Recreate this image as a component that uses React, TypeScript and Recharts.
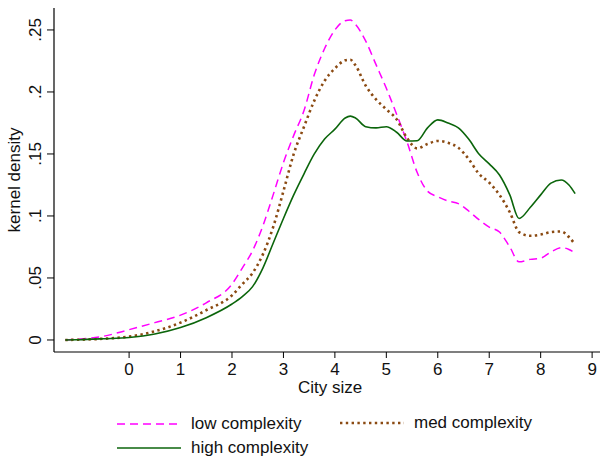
import { Label, Line, LineChart, XAxis, YAxis } from 'recharts'

const citySize = [
  -1.24, -1.0, -0.5, 0, 0.5, 1.0, 1.5, 2.0, 2.2, 2.4, 2.6, 2.8, 3.0, 3.2, 3.4, 3.6, 3.8, 4.0, 4.2, 4.3,
  4.4, 4.6, 4.8, 5.0, 5.2, 5.4, 5.6, 5.8, 6.0, 6.2, 6.4, 6.6, 6.8, 7.0, 7.2, 7.4, 7.58, 7.8, 8.0, 8.2,
  8.4, 8.55, 8.67,
]

const lowComplexity = [
  0, 0.0006, 0.003, 0.0083, 0.014, 0.02, 0.03, 0.045, 0.058, 0.072, 0.092, 0.117, 0.143, 0.165, 0.185,
  0.214, 0.235, 0.25, 0.2575, 0.258, 0.2545, 0.241, 0.222, 0.203, 0.182, 0.16, 0.135, 0.12, 0.1155,
  0.112, 0.11, 0.104, 0.097, 0.091, 0.087, 0.075, 0.063, 0.065, 0.066, 0.071, 0.0745, 0.073, 0.07,
]

const medComplexity = [
  0, 0.0002, 0.001, 0.0027, 0.007, 0.014, 0.024, 0.036, 0.045, 0.054, 0.069, 0.091, 0.12, 0.15, 0.172,
  0.193, 0.209, 0.219, 0.2255, 0.226, 0.2215, 0.205, 0.194, 0.186, 0.178, 0.163, 0.1545, 0.158, 0.1605,
  0.159, 0.155, 0.146, 0.134, 0.127, 0.117, 0.103, 0.087, 0.084, 0.085, 0.087, 0.0875, 0.083, 0.077,
]

const highComplexity = [
  0, 0.0002, 0.001, 0.002, 0.0048, 0.01, 0.018, 0.029, 0.035, 0.043, 0.058, 0.078, 0.098, 0.117, 0.134,
  0.15, 0.162, 0.17, 0.179, 0.1805, 0.179, 0.172, 0.171, 0.172, 0.1675, 0.1605, 0.1607, 0.171, 0.1775,
  0.175, 0.171, 0.162, 0.15, 0.142, 0.133, 0.117, 0.098, 0.107, 0.117, 0.1265, 0.129, 0.125, 0.118,
]

const xTicks = [0, 1, 2, 3, 4, 5, 6, 7, 8, 9]
const yTicks = [0, 0.05, 0.1, 0.15, 0.2, 0.25]

const FONT = '"Liberation Sans", Arial, Helvetica, sans-serif'

const series = [
  { key: 'low', name: 'low complexity', color: '#ff00ff', width: 1.5, dash: '8 5' },
  { key: 'med', name: 'med complexity', color: '#8b4a12', width: 2.6, dash: '2.4 3.4' },
  { key: 'high', name: 'high complexity', color: '#0b650b', width: 1.6, dash: undefined },
]

const rows = citySize.map((x, i) => ({
  x,
  low: lowComplexity[i],
  med: medComplexity[i],
  high: highComplexity[i],
}))

const fmtY = (v: number) => (v === 0 ? '0' : String(v).replace(/^0\./, '.'))

const YTick = ({ x, y, payload }: any) => (
  <text
    x={x}
    y={y}
    transform={`rotate(-90 ${x} ${y})`}
    textAnchor="middle"
    fontSize={17}
    fontFamily={FONT}
    fill="#111"
  >
    {fmtY(payload.value)}
  </text>
)

const LegendItem = ({ s, left, top }: { s: (typeof series)[number]; left: number; top: number }) => (
  <div style={{ position: 'absolute', left, top, display: 'flex', alignItems: 'center' }}>
    <svg width={66} height={6}>
      <line x1={1} y1={3} x2={65} y2={3} stroke={s.color} strokeWidth={s.width} strokeDasharray={s.dash} />
    </svg>
    <span style={{ marginLeft: 9, fontSize: 17, fontFamily: FONT, color: '#111', lineHeight: '20px' }}>{s.name}</span>
  </div>
)

export default function App() {
  return (
    <div style={{ position: 'absolute', left: 0, top: 0, width: 600, height: 457, overflow: 'hidden', background: '#fff' }}>
      <LineChart width={610} height={457} data={rows} margin={{ top: 8, right: 4, left: 0, bottom: 60 }}>
        {/* top edge of the plot frame */}
        <XAxis
          xAxisId="top"
          orientation="top"
          dataKey="x"
          type="number"
          domain={[-1.46, 9.27]}
          height={0}
          tick={false}
          tickLine={false}
          axisLine={{ stroke: '#333', strokeWidth: 1.2 }}
        />
        <XAxis
          dataKey="x"
          type="number"
          domain={[-1.46, 9.27]}
          allowDataOverflow
          ticks={xTicks}
          height={45}
          tickSize={6}
          tickMargin={5}
          tick={{ fontSize: 17, fontFamily: FONT, fill: '#111' }}
          axisLine={{ stroke: '#000', strokeWidth: 1.2 }}
          tickLine={{ stroke: '#000' }}
        >
          <Label value="City size" position="insideBottom" offset={4} fontSize={17} fontFamily={FONT} fill="#111" />
        </XAxis>
        <YAxis
          type="number"
          domain={[-0.0097, 0.2677]}
          allowDataOverflow
          ticks={yTicks}
          width={54}
          tickSize={7}
          tickMargin={6}
          tick={<YTick />}
          axisLine={{ stroke: '#000', strokeWidth: 1.2 }}
          tickLine={{ stroke: '#000' }}
        >
          <Label
            content={() => (
              <text
                x={20}
                y={180}
                transform="rotate(-90 20 180)"
                textAnchor="middle"
                fontSize={17}
                fontFamily={FONT}
                fill="#111"
              >
                kernel density
              </text>
            )}
          />
        </YAxis>
        {series.map((s) => (
          <Line
            key={s.key}
            dataKey={s.key}
            name={s.name}
            type="monotone"
            stroke={s.color}
            strokeWidth={s.width}
            strokeDasharray={s.dash}
            dot={false}
            activeDot={false}
            isAnimationActive={false}
          />
        ))}
      </LineChart>
      <LegendItem s={series[0]} left={116} top={414} />
      <LegendItem s={series[1]} left={339} top={413} />
      <LegendItem s={series[2]} left={116} top={438} />
    </div>
  )
}
